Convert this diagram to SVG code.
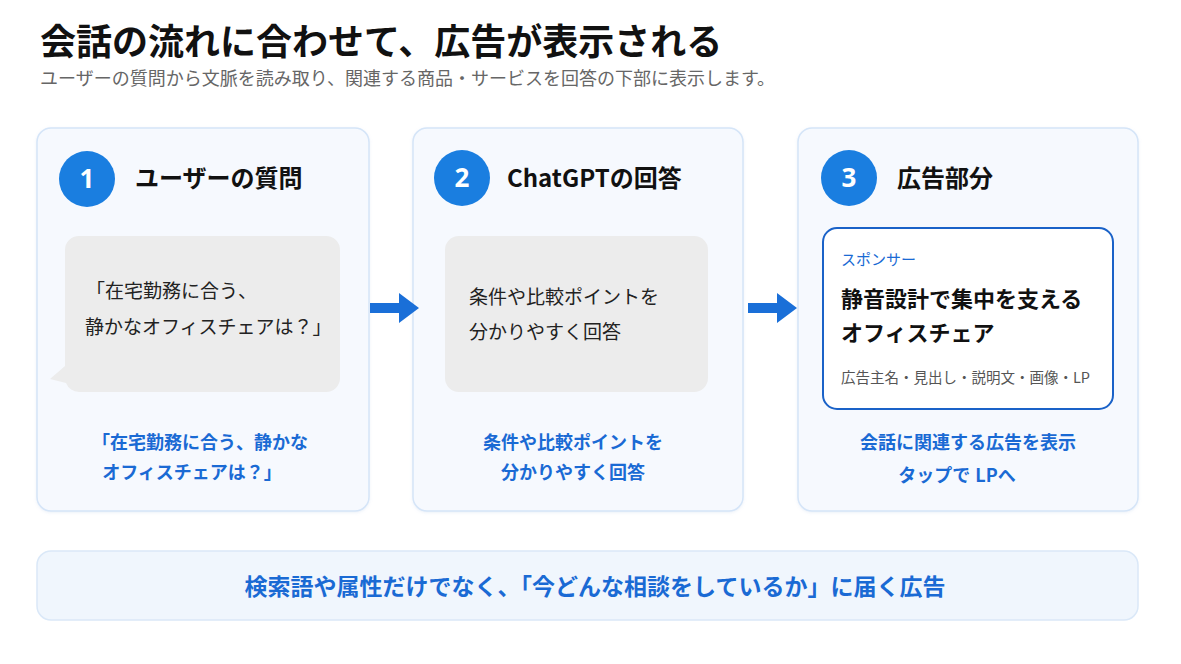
<svg xmlns="http://www.w3.org/2000/svg" width="1181" height="664" viewBox="0 0 1181 664">
<defs>
<style>
text{font-family:"Noto Sans CJK JP","Noto Sans",sans-serif;}
.card{fill:#f6f9fe;stroke:#d5e5f8;stroke-width:1.5;}
.num{fill:#1a7ee0;}
.numt{fill:#fff;font-size:26px;font-weight:700;font-family:"Noto Sans","Noto Sans CJK JP",sans-serif;text-anchor:middle;}
.head{fill:#111;font-size:24px;font-weight:700;}
.bub{fill:#ececec;}
.bt{fill:#222;font-size:19px;}
.cap{fill:#1a6ad4;font-size:18px;font-weight:700;text-anchor:middle;}
.arrow{fill:#1a6fd8;}
</style>
<filter id="sh" x="-5%" y="-5%" width="110%" height="110%">
<feDropShadow dx="0" dy="1" stdDeviation="1.5" flood-color="#90b0d8" flood-opacity="0.18"/>
</filter>
</defs>
<rect width="1181" height="664" fill="#ffffff"/>
<g id="title">
<text x="40" y="55" font-size="36" font-weight="700" fill="#111">会話の流れに合わせて、広告が表示される</text>
<text x="40" y="85" font-size="18" fill="#666">ユーザーの質問から文脈を読み取り、関連する商品・サービスを回答の下部に表示します。</text>
</g>
<g id="card1">
<rect class="card" x="37" y="128" width="332" height="383" rx="14" filter="url(#sh)"/>
<circle class="num" cx="87" cy="179" r="28"/>
<text class="numt" x="87" y="188">1</text>
<text class="head" x="135" y="187">ユーザーの質問</text>
<path class="bub" d="M79 236 H326 A14 14 0 0 1 340 250 V378 A14 14 0 0 1 326 392 H79 A14 14 0 0 1 66 383 L50 379 L65 366 V250 A14 14 0 0 1 79 236 Z"/>
<text class="bt" x="86" y="298">「在宅勤務に合う、</text>
<text class="bt" x="85" y="334">静かなオフィスチェアは？」</text>
<text class="cap" x="200" y="449">「在宅勤務に合う、静かな</text>
<text class="cap" x="192" y="479">オフィスチェアは？」</text>
</g>
<g id="card2">
<rect class="card" x="413" y="128" width="330" height="383" rx="14" filter="url(#sh)"/>
<circle class="num" cx="462" cy="178" r="28"/>
<text class="numt" x="462" y="187">2</text>
<text class="head" x="507" y="187">ChatGPTの回答</text>
<rect class="bub" x="445" y="236" width="263" height="156" rx="14"/>
<text class="bt" x="469" y="304">条件や比較ポイントを</text>
<text class="bt" x="469" y="339">分かりやすく回答</text>
<text class="cap" x="573" y="449">条件や比較ポイントを</text>
<text class="cap" x="573" y="479">分かりやすく回答</text>
</g>
<g id="card3">
<rect class="card" x="798" y="128" width="340" height="383" rx="14" filter="url(#sh)"/>
<circle class="num" cx="849" cy="178" r="28"/>
<text class="numt" x="849" y="187">3</text>
<text class="head" x="897" y="187">広告部分</text>
<rect x="823" y="228" width="290" height="181" rx="14" fill="#fff" stroke="#1a62c8" stroke-width="2"/>
<text x="841" y="265" font-size="15" fill="#1a6ad4">スポンサー</text>
<text x="841" y="307" font-size="22" font-weight="700" fill="#111">静音設計で集中を支える</text>
<text x="841" y="341" font-size="22" font-weight="700" fill="#111">オフィスチェア</text>
<text x="841" y="383" font-size="14.5" fill="#555">広告主名・見出し・説明文・画像・LP</text>
<text class="cap" x="968" y="449">会話に関連する広告を表示</text>
<text class="cap" x="957" y="482">タップで<tspan dx="5">LPへ</tspan></text>
</g>
<g id="connectors">
<path class="arrow" d="M370 303 H399 V293 L419 308 L399 323 V313 H370 Z"/>
<path class="arrow" d="M748 303 H777 V293 L797 308 L777 323 V313 H748 Z"/>
</g>
<g id="banner">
<rect x="37" y="551" width="1101" height="69" rx="14" fill="#f0f6fd" stroke="#dae8f8" stroke-width="1.5"/>
<text x="595" y="595" font-size="23" font-weight="700" fill="#1a6ad4" text-anchor="middle">検索語や属性だけでなく、「今どんな相談をしているか」に届く広告</text>
</g>
</svg>
